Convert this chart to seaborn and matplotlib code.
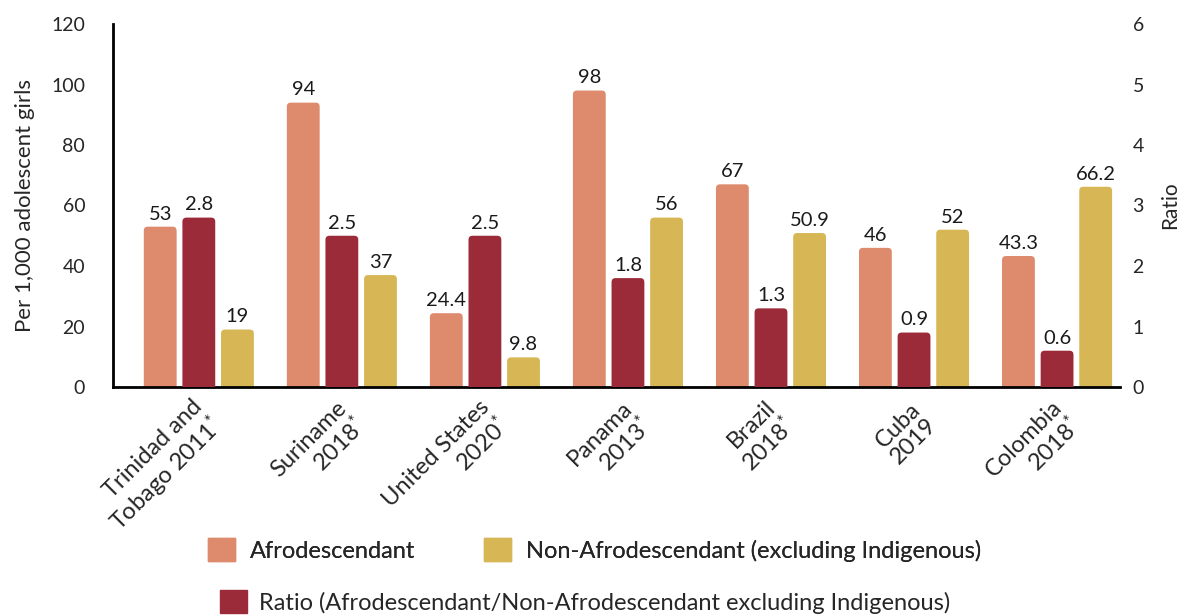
import matplotlib
matplotlib.use("Agg")
import matplotlib.pyplot as plt
import matplotlib.transforms as mtransforms
import seaborn as sns
import pandas as pd
from matplotlib.patches import Patch, FancyBboxPatch

# ---------------- data ----------------
countries = ["Trinidad and Tobago 2011", "Suriname 2018", "United States 2020",
             "Panama 2013", "Brazil 2018", "Cuba 2019", "Colombia 2018"]
tick_labels = ["Trinidad and\nTobago 2011$^{*}$", "Suriname\n2018$^{*}$",
               "United States\n2020$^{*}$", "Panama\n2013$^{*}$",
               "Brazil\n2018$^{*}$", "Cuba\n2019", "Colombia\n2018$^{*}$"]
afro = [53, 94, 24.4, 98, 67, 46, 43.3]
ratio = [2.8, 2.5, 2.5, 1.8, 1.3, 0.9, 0.6]
non_afro = [19, 37, 9.8, 56, 50.9, 52, 66.2]

s_afro = "Afrodescendant"
s_ratio = "Ratio (Afrodescendant/Non-Afrodescendant excluding Indigenous)"
s_non = "Non-Afrodescendant (excluding Indigenous)"
hue_order = [s_afro, s_ratio, s_non]
colors = {s_afro: "#DE8A6D", s_ratio: "#9C2B39", s_non: "#D7B755"}

df_rates = pd.DataFrame({
    "country": countries * 2,
    "group": [s_afro] * len(countries) + [s_non] * len(countries),
    "value": afro + non_afro,
})
df_ratio = pd.DataFrame({"country": countries, "group": [s_ratio] * len(countries),
                         "value": ratio})

# ---------------- style ----------------
sns.set_theme(style="white")
plt.rcParams["font.family"] = ["Lato", "DejaVu Sans"]
plt.rcParams["mathtext.fontset"] = "custom"
plt.rcParams["mathtext.rm"] = "Lato"
plt.rcParams["mathtext.it"] = "Lato"
plt.rcParams["mathtext.bf"] = "Lato"

W, H = 1184, 615
fig = plt.figure(figsize=(W / 100, H / 100), dpi=100)
ax_px = (113, 24, 1120, 387)  # left, top, right, bottom in pixels
ax1 = fig.add_axes([ax_px[0] / W, 1 - ax_px[3] / H, (ax_px[2] - ax_px[0]) / W,
                    (ax_px[3] - ax_px[1]) / H])
ax2 = ax1.twinx()

common = dict(x="country", y="value", hue="group", hue_order=hue_order,
              order=countries, palette=colors, width=0.81, gap=0.15, dodge=True,
              errorbar=None, legend=False, saturation=1)
sns.barplot(data=df_rates, ax=ax1, **common)
sns.barplot(data=df_ratio, ax=ax2, **common)

xlim = (-0.6, 6.44)
ax1.set_xlim(*xlim)
ax1.set_ylim(0, 120)
ax2.set_ylim(0, 6)

for ax in (ax1, ax2):
    for c in ax.containers:
        ax.bar_label(c, fmt="%g", padding=3, fontsize=14.5, color="#1a1a1a")

# rounded tops for the bars (slightly rounded corners as in the reference)
px_w = ax_px[2] - ax_px[0]
px_h = ax_px[3] - ax_px[1]
radius_px = 4
for ax in (ax1, ax2):
    y0, y1 = ax.get_ylim()
    x_per_px = (xlim[1] - xlim[0]) / px_w
    y_per_px = (y1 - y0) / px_h
    rx = radius_px * x_per_px
    aspect = y_per_px / x_per_px
    for c in ax.containers:
        if not hasattr(c, "patches"):
            continue
        for p in c.patches:
            x, w, h = p.get_x(), p.get_width(), p.get_height()
            if not (h == h) or h == 0:
                continue
            ry = radius_px * y_per_px
            fb = FancyBboxPatch((x, -ry), w, h + ry,
                                boxstyle=f"round,pad=0,rounding_size={rx}",
                                mutation_aspect=aspect, facecolor=p.get_facecolor(),
                                edgecolor="none", linewidth=0, zorder=p.get_zorder())
            ax.add_patch(fb)
            p.set_visible(False)

ax1.set_xlim(*xlim)
ax1.set_ylim(0, 120)
ax2.set_ylim(0, 6)
ax1.set_yticks(range(0, 121, 20))
ax2.set_yticks(range(0, 7))

ax1.tick_params(axis="x", length=0, pad=19.5)
ax1.tick_params(axis="y", length=0, pad=20, labelsize=14)
ax2.tick_params(axis="y", length=0, pad=9, labelsize=14)

ax1.set_xticks(range(len(countries)))
ax1.set_xticklabels(tick_labels, rotation=45, ha="right", va="center",
                    rotation_mode="anchor", multialignment="right", fontsize=17,
                    linespacing=1.05)
offset = mtransforms.ScaledTranslation(8 / 72, 0, fig.dpi_scale_trans)
for lab in ax1.get_xticklabels():
    lab.set_transform(lab.get_transform() + offset)

ax1.set_xlabel("")
ax1.set_ylabel("Per 1,000 adolescent girls", fontsize=16, labelpad=12)
ax2.set_ylabel("Ratio", fontsize=15, labelpad=12)

for sp in ["top", "right"]:
    ax1.spines[sp].set_visible(False)
for sp in ["left", "bottom"]:
    ax1.spines[sp].set_color("black")
    ax1.spines[sp].set_linewidth(2)
    ax1.spines[sp].set_zorder(5)
for sp in ax2.spines.values():
    sp.set_visible(False)

# ---------------- legend ----------------
h1 = [Patch(color=colors[s_afro], label=s_afro), Patch(color=colors[s_non], label=s_non)]
leg1 = fig.legend(handles=h1, loc="center left", bbox_to_anchor=(208 / W, 1 - 550 / H),
                  ncol=2, frameon=False, fontsize=17, handlelength=1.14, handleheight=1.14,
                  handletextpad=0.64, columnspacing=2.9, borderpad=0, borderaxespad=0)
h2 = [Patch(color=colors[s_ratio], label=s_ratio)]
leg2 = fig.legend(handles=h2, loc="center left", bbox_to_anchor=(220 / W, 1 - 602 / H),
                  frameon=False, fontsize=17, handlelength=1.14, handleheight=1.14,
                  handletextpad=0.5, borderpad=0, borderaxespad=0)
fig.add_artist(leg1)

fig.savefig("out.png", dpi=100)
